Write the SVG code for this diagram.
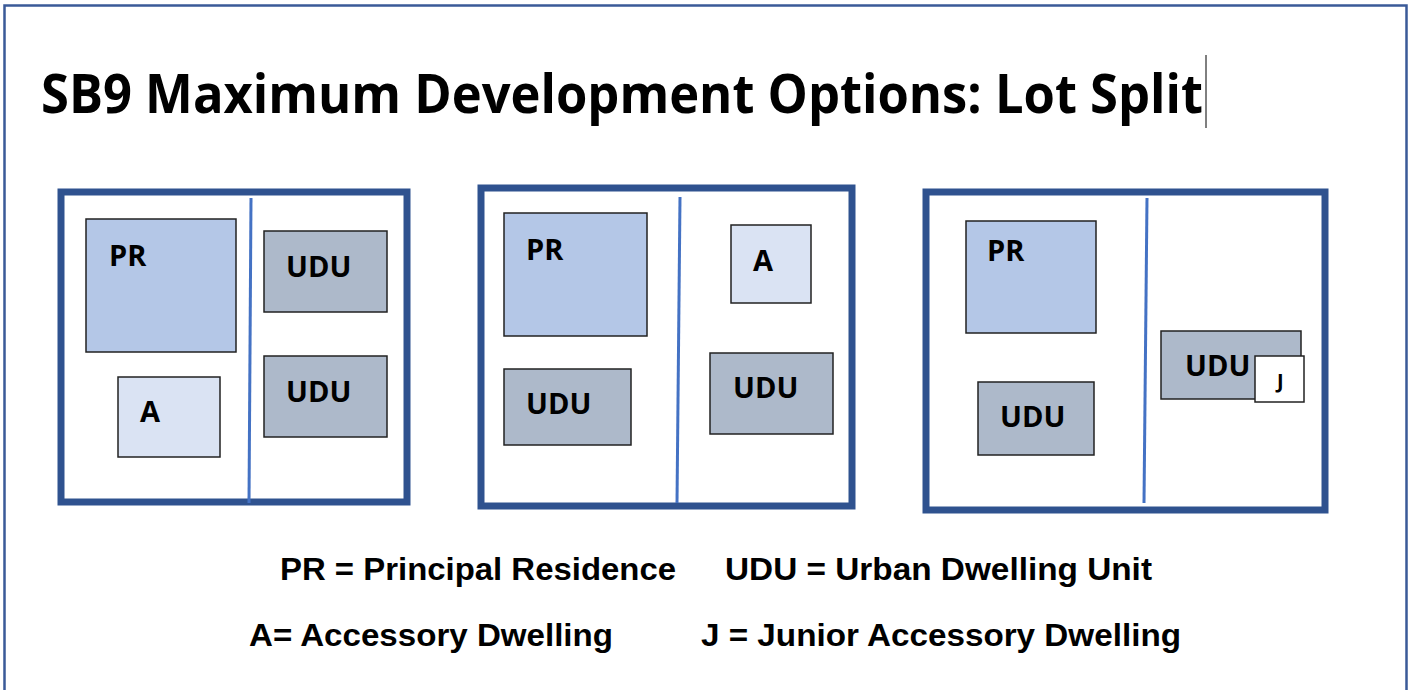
<svg xmlns="http://www.w3.org/2000/svg" width="1414" height="690" viewBox="0 0 1414 690">
<style>
.frame{fill:#fff;stroke:#2F528F;stroke-width:7}
.div{stroke:#4472C4;stroke-width:3;fill:none}
.pr{fill:#B4C7E7;stroke:#222;stroke-width:1.5}
.a{fill:#DAE3F3;stroke:#222;stroke-width:1.5}
.udu{fill:#ADB9CA;stroke:#222;stroke-width:1.5}
.j{fill:#fff;stroke:#222;stroke-width:1.5}
.lbl{font-family:"Open Sans","DejaVu Sans",sans-serif;font-weight:bold;font-size:29px;fill:#000}
.lbl.small{font-size:20px}
.leg{font-family:"Liberation Sans",Arial,sans-serif;font-weight:bold;font-size:31px;fill:#000}
</style>
<rect x="0" y="0" width="1414" height="690" fill="#fff"/>
<path d="M4.5 700 V5.5 H1406.5 V700" fill="none" stroke="#3A5A98" stroke-width="2.5"/>
<g id="title">
<text x="41" y="113" font-family="'Open Sans','DejaVu Sans',sans-serif" font-weight="bold" font-size="54" textLength="1162" lengthAdjust="spacingAndGlyphs">SB9 Maximum Development Options: Lot Split</text>
<line x1="1206" y1="55" x2="1206" y2="128" stroke="#000" stroke-width="1"/>
</g>
<g id="panel1">
<rect class="frame" x="61" y="192" width="346" height="310"/>
<line class="div" x1="251" y1="198" x2="249" y2="503"/>
<g id="p1-pr"><rect class="pr" x="86" y="219" width="150" height="133"/><text class="lbl" x="109" y="266">PR</text></g>
<g id="p1-a"><rect class="a" x="118" y="377" width="102" height="80"/><text class="lbl" x="140" y="422">A</text></g>
<g id="p1-udu1"><rect class="udu" x="264" y="231" width="123" height="81"/><text class="lbl" x="286" y="277">UDU</text></g>
<g id="p1-udu2"><rect class="udu" x="264" y="356" width="123" height="81"/><text class="lbl" x="286" y="402">UDU</text></g>
</g>
<g id="panel2">
<rect class="frame" x="481" y="188" width="371" height="318"/>
<line class="div" x1="680" y1="197" x2="677" y2="503"/>
<g id="p2-pr"><rect class="pr" x="504" y="213" width="143" height="123"/><text class="lbl" x="526" y="260">PR</text></g>
<g id="p2-udu1"><rect class="udu" x="504" y="369" width="127" height="76"/><text class="lbl" x="526" y="414">UDU</text></g>
<g id="p2-a"><rect class="a" x="731" y="225" width="80" height="78"/><text class="lbl" x="753" y="271">A</text></g>
<g id="p2-udu2"><rect class="udu" x="710" y="353" width="123" height="81"/><text class="lbl" x="733" y="398">UDU</text></g>
</g>
<g id="panel3">
<rect class="frame" x="926" y="192" width="399" height="318"/>
<line class="div" x1="1147" y1="198" x2="1144" y2="503"/>
<g id="p3-pr"><rect class="pr" x="966" y="221" width="130" height="112"/><text class="lbl" x="987" y="261">PR</text></g>
<g id="p3-udu1"><rect class="udu" x="978" y="382" width="116" height="73"/><text class="lbl" x="1000" y="427">UDU</text></g>
<g id="p3-udu2"><rect class="udu" x="1161" y="331" width="140" height="68"/><text class="lbl" x="1185" y="376">UDU</text></g>
<g id="p3-j"><rect class="j" x="1255" y="356" width="49" height="46"/><text class="lbl small" x="1277" y="388">J</text></g>
</g>
<g id="connectors"></g>
<g id="legend">
<text class="leg" x="280" y="580" textLength="396" lengthAdjust="spacingAndGlyphs">PR = Principal Residence</text>
<text class="leg" x="725" y="580" textLength="427" lengthAdjust="spacingAndGlyphs">UDU = Urban Dwelling Unit</text>
<text class="leg" x="249" y="646" textLength="364" lengthAdjust="spacingAndGlyphs">A= Accessory Dwelling</text>
<text class="leg" x="701" y="646" textLength="480" lengthAdjust="spacingAndGlyphs">J = Junior Accessory Dwelling</text>
</g>
</svg>
